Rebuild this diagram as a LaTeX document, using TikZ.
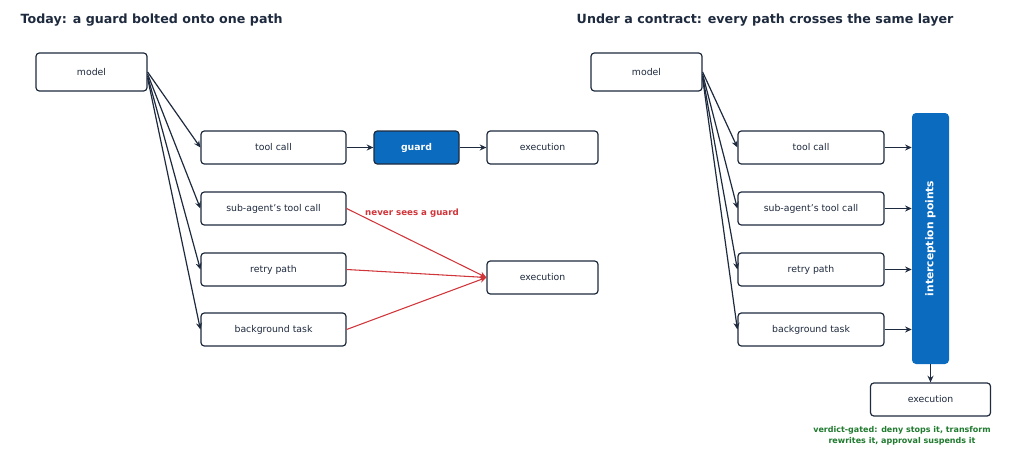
\documentclass[tikz,border=0pt]{standalone}
\usepackage{fontspec}
\setmainfont{DejaVu Sans}
\usetikzlibrary{arrows.meta}
\definecolor{navy}{HTML}{1E2A3E}
\definecolor{gblue}{HTML}{0B6BBF}
\definecolor{rred}{HTML}{D0353A}
\definecolor{ggreen}{HTML}{1F7A2E}
\begin{document}
\begin{tikzpicture}[x=0.75pt,y=-0.75pt,
  box/.style={draw=navy,line width=0.9pt,rounded corners=2.5pt,fill=white,font=\fontsize{7}{8}\selectfont,text=navy,inner sep=0pt},
  arr/.style={-{Stealth[length=5pt,width=4.5pt]},draw=navy,line width=0.9pt},
  rarr/.style={-{Stealth[length=5pt,width=4.5pt]},draw=rred,line width=0.8pt},
  ttl/.style={anchor=west,font=\fontsize{9.5}{11}\selectfont\bfseries,text=navy}]
\useasboundingbox (0,0) rectangle (1024,460);
\node[ttl] (t1) at (16,20) {Today: a guard bolted onto one path};
\node[ttl] (t2) at (572,20) {Under a contract: every path crosses the same layer};
% left
\node[box,minimum width=111\pgflinewidth,text width=0pt] at (-100,-100) {};
\newcommand\bx[6]{\node[box,minimum width=#3*0.75pt,minimum height=#4*0.75pt,#6] (#1) at (#2) {#5};}
\bx{m1}{91.5,72}{111}{38}{model}{}
\bx{a1}{273.5,147.5}{145}{33}{tool call}{}
\bx{a2}{273.5,208.5}{145}{33}{sub-agent's tool call}{}
\bx{a3}{273.5,269.5}{145}{33}{retry path}{}
\bx{a4}{273.5,329.5}{145}{33}{background task}{}
\bx{g}{416.5,147.5}{85}{33}{\bfseries guard}{fill=gblue,text=white}
\bx{e1}{542.5,147.5}{111}{33}{execution}{}
\bx{e2}{542.5,277.5}{111}{33}{execution}{}
\foreach \i/\s in {a1/0,a2/2,a3/4,a4/6} \draw[arr] ([yshift=-\s*0.75pt]m1.east) -- (\i.west);
\draw[arr] (a1) -- (g);
\draw[arr] (g) -- (e1);
\foreach \i in {a2,a3,a4} \draw[rarr] (\i.east) -- (e2.west);
\node[font=\fontsize{6.5}{8}\selectfont\bfseries,text=rred] (ng) at (412,213) {never sees a guard};
% right
\bx{m2}{646.5,72}{111}{38}{model}{}
\bx{b1}{811,147.5}{146}{33}{tool call}{}
\bx{b2}{811,208.5}{146}{33}{sub-agent's tool call}{}
\bx{b3}{811,269.5}{146}{33}{retry path}{}
\bx{b4}{811,329.5}{146}{33}{background task}{}
\node[fill=gblue,rounded corners=3pt,minimum width=37*0.75pt,minimum height=251*0.75pt,inner sep=0pt] (ip) at (930.5,238.5) {};
\node[rotate=90,text=white,font=\fontsize{8}{9}\selectfont\bfseries] (ipt) at (ip) {interception points};
\bx{e3}{930.5,399.5}{120}{33}{execution}{}
\foreach \i/\s in {b1/0,b2/2,b3/4,b4/6} \draw[arr] ([yshift=-\s*0.75pt]m2.east) -- (\i.west);
\foreach \i in {b1,b2,b3,b4} \draw[arr] (\i.east) -- (\i.east -| ip.west);
\draw[arr] (ip.south) -- (e3.north);
\node[align=center,font=\fontsize{6}{8.5}\selectfont\bfseries,text=ggreen] (vg) at (902,436) {verdict-gated: deny stops it, transform\\rewrites it, approval suspends it};
\end{tikzpicture}
\end{document}
